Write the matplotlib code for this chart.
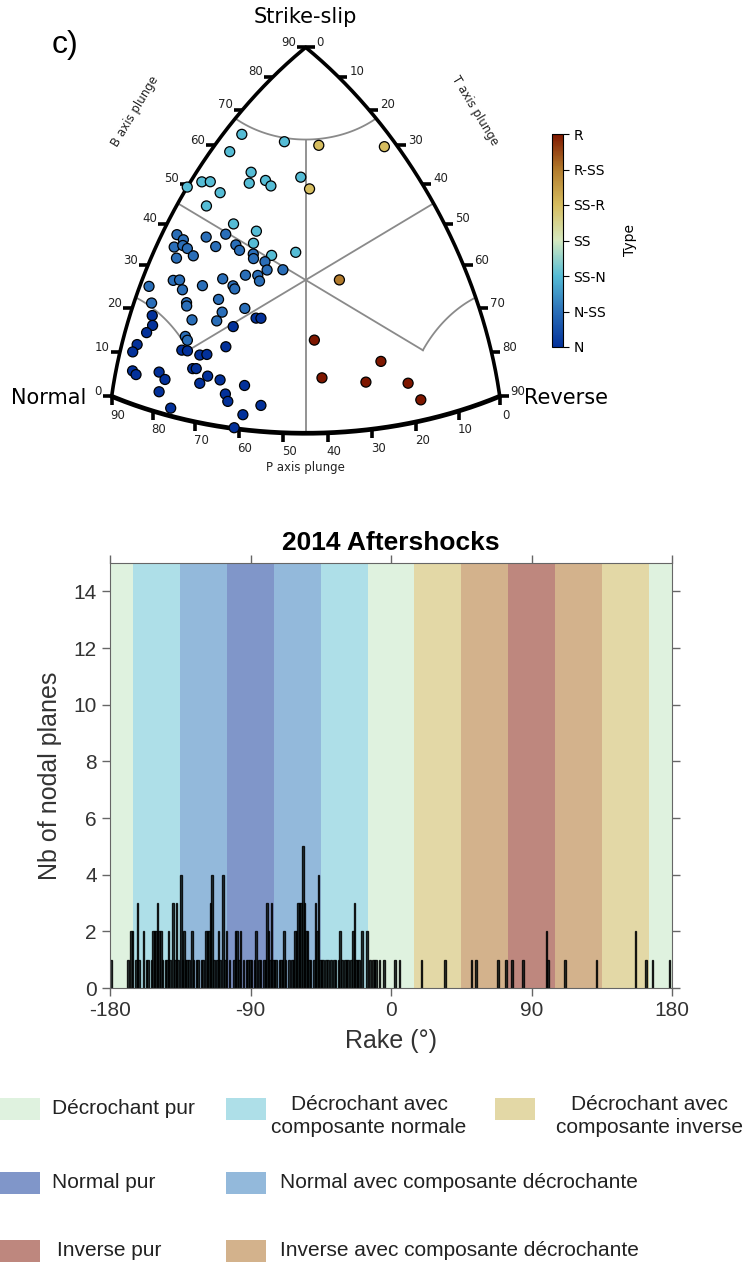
import numpy as np
import matplotlib
matplotlib.use('Agg')
import matplotlib.pyplot as plt
from matplotlib.colors import LinearSegmentedColormap, Normalize
from matplotlib.cm import ScalarMappable
from matplotlib.patches import Rectangle

plt.rcParams['axes.unicode_minus'] = False
W, H = 745, 1262

# ---------------- data ----------------
# B-axis and P-axis plunges (degrees) of the focal mechanisms; T plunge follows from them
b_plunge = [65.2, 66.6, 60.5, 58.0, 51.7, 52.6, 55.5, 57.0, 56.0, 58.7, 49.1, 51.3, 47.4, 45.7, 45.3, 42.5,
            40.4, 41.5, 66.0, 61.2, 56.0, 34.9, 21.6, 15.3, 12.9, 11.1, 9.2, 4.8,
            38.9, 38.5, 41.0, 43.0, 36.2, 37.3, 37.1, 39.7, 41.3, 40.3, 34.2, 36.1, 40.1, 39.1, 38.8, 37.0,
            37.4, 29.4, 30.0, 28.2, 30.5, 33.2, 32.2, 31.6, 35.1, 35.5, 34.3, 26.0, 22.9, 25.8, 25.1, 28.5,
            25.9, 27.7, 22.5, 23.7, 18.5, 17.8,
            25.9, 26.0, 23.2, 20.4, 18.4, 16.4, 13.1, 11.2, 15.3, 15.5, 15.3, 15.8, 18.4, 11.9, 12.1, 7.2,
            6.7, 9.0, 7.8, 11.0, 10.7, 9.0, 10.3, 4.7, 7.7, 6.1, 1.8, 6.1, 3.5, 0.2]
p_plunge = [24.5, 19.5, 29.2, 29.7, 38.2, 37.1, 31.8, 28.8, 28.8, 22.4, 40.9, 37.7, 41.9, 40.9, 38.2, 40.5,
            38.9, 33.9, 14.4, 2.6, 22.6, 28.3, 39.2, 25.8, 39.9, 30.2, 20.7, 18.4,
            50.9, 51.0, 47.3, 43.8, 53.5, 52.1, 52.0, 47.4, 43.8, 44.0, 55.2, 52.4, 42.1, 42.7, 41.0, 41.7,
            38.6, 59.6, 58.6, 59.8, 55.8, 51.2, 50.3, 50.4, 46.5, 44.2, 44.6, 63.9, 66.7, 61.2, 61.7, 54.9,
            55.9, 50.9, 62.8, 58.1, 66.4, 66.5,
            49.7, 48.7, 55.4, 68.9, 70.6, 72.8, 76.4, 78.4, 68.9, 67.8, 65.6, 64.0, 59.1, 68.5, 67.7, 81.8,
            81.7, 76.4, 75.8, 65.7, 63.1, 68.0, 57.8, 78.1, 62.6, 62.3, 75.8, 54.8, 59.1, 61.1]

rake_bin = [-180, -169, -167, -166, -164, -163, -162, -159, -157, -156, -154, -153, -152, -151, -150, -149,
            -148, -147, -145, -144, -143, -142, -140, -139, -138, -137, -135, -134, -133, -132, -131, -130,
            -128, -127, -125, -124, -122, -121, -119, -118, -117, -116, -115, -114, -112, -111, -110, -108,
            -107, -106, -104, -101, -100, -99, -98, -97, -95, -93, -92, -91, -90, -88, -87, -85, -84, -82,
            -81, -80, -79, -78, -77, -76, -75, -74, -72, -71, -70, -69, -68, -66, -64, -63, -62, -61, -60,
            -59, -58, -57, -56, -55, -54, -53, -52, -50, -49, -48, -47, -46, -45, -44, -42, -41, -39, -37,
            -36, -34, -33, -32, -30, -29, -28, -26, -25, -24, -23, -22, -21, -19, -16, -14, -12, -11, -10,
            -8, -5, 2, 5, 19, 34, 51, 54, 68, 73, 77, 84, 99, 100, 111, 131, 156, 163, 167, 178]
plane_counts = [1, 1, 2, 2, 1, 3, 1, 2, 1, 1, 1, 2, 2, 2, 3, 2,
                2, 1, 1, 1, 2, 1, 3, 1, 3, 1, 4, 1, 2, 1, 1, 1,
                2, 1, 1, 1, 1, 1, 2, 2, 2, 3, 4, 1, 1, 2, 1, 4,
                1, 2, 1, 1, 2, 2, 1, 2, 1, 1, 1, 1, 1, 1, 2, 1, 1, 1,
                1, 3, 2, 1, 3, 1, 1, 1, 1, 1, 1, 2, 1, 1, 1, 1, 2, 2, 3,
                3, 3, 5, 3, 2, 2, 1, 1, 1, 3, 2, 4, 1, 1, 1, 1, 1, 1, 1,
                1, 1, 2, 1, 1, 1, 1, 1, 2, 3, 1, 1, 1, 2, 2, 1, 1, 1, 1,
                1, 1, 1, 1, 1, 1, 1, 1, 1, 1, 1, 1, 2, 1, 1, 1, 2, 1, 1, 1]

classes = ['N', 'N-SS', 'SS-N', 'SS', 'SS-R', 'R-SS', 'R']
band_edges = [-180, -165, -135, -105, -75, -45, -15, 15, 45, 75, 105, 135, 165, 180]
band_kind = ['SS', 'SS-N', 'N-SS', 'N', 'N-SS', 'SS-N', 'SS', 'SS-R', 'R-SS', 'R', 'R-SS', 'SS-R', 'SS']
band_color = {'SS': '#dff2df', 'SS-N': '#aedfe8', 'N-SS': '#93b9db', 'N': '#8096c9',
              'SS-R': '#e3d8a6', 'R-SS': '#d3b28c', 'R': '#be877e'}
legend_entries = [('SS', 'Décrochant pur'), ('SS-N', 'Décrochant avec\ncomposante normale'),
                  ('SS-R', 'Décrochant avec\ncomposante inverse'), ('N', 'Normal pur'),
                  ('N-SS', 'Normal avec composante décrochante'), ('R', 'Inverse pur'),
                  ('R-SS', 'Inverse avec composante décrochante')]

# ---------------- helpers ----------------
def kave(t, b, p):
    zt = np.sin(np.radians(t)); zb = np.sin(np.radians(b)); zp = np.sin(np.radians(p))
    n = np.sqrt(zt**2 + zb**2 + zp**2)
    zt, zb, zp = zt/n, zb/n, zp/n
    L = 2*np.sin(0.5*np.arccos(np.clip((zt+zb+zp)/np.sqrt(3), -1, 1)))
    N = np.sqrt(2*((zb-zp)**2 + (zb-zt)**2 + (zt-zp)**2))
    N = np.where(N == 0, 1, N)
    return np.sqrt(3)*(L/N)*(zt-zp), (L/N)*(2*zb-zp-zt)

def classify(t, b, p):
    arr = [p, b, t]; m = int(np.argmax(arr)); mx = max(arr)
    if mx >= 67.5:
        return ['N', 'SS', 'R'][m]
    if m == 0:
        return 'N-SS' if b > t else 'N'
    if m == 1:
        return 'SS-N' if p > t else 'SS-R'
    return 'R-SS' if b > p else 'R'

b_pl = np.array(b_plunge); p_pl = np.array(p_plunge)
t_pl = np.degrees(np.arcsin(np.sqrt(np.clip(1 - np.sin(np.radians(b_pl))**2
                                            - np.sin(np.radians(p_pl))**2, 0, 1))))

cmap = LinearSegmentedColormap.from_list('type', ['#03319a', '#2a6fb8', '#55bcd5', '#d5e9c0',
                                                   '#d6bd5f', '#b27b2c', '#7e1700'])
norm = Normalize(0, 6)

fig = plt.figure(figsize=(W/100, H/100), dpi=100)

# ---------------- ternary (Kaverina) ----------------
ax = fig.add_axes([0, 1-480/H, 1, 480/H])
ax.set_xlim(-305.7/243.7, (W-305.7)/243.7)
ax.set_ylim((280-480)/253.0, 280/253.0)
ax.axis('off')
PX, PY = 1/243.7, 1/253.0
def pxd(px, py):
    return (px-305.7)*PX, (280-py)*PY

s = np.linspace(0, 90, 300)
z = np.zeros_like(s)
for tt, bb, pp, lw in [(z, s, 90-s, 2.6), (s, 90-s, z, 2.6), (90-s, z, s, 3.4)]:
    ex, ey = kave(tt, bb, pp)
    ax.plot(ex, ey, color='black', lw=lw, solid_capstyle='round', zorder=3)

gc, glw = '#8a8a8a', 1.3
r675 = np.cos(np.radians(67.5))
phi = np.radians(np.linspace(0, 90, 100))
ax.plot(*kave(np.degrees(np.arcsin(r675*np.cos(phi))), 67.5+0*phi,
              np.degrees(np.arcsin(r675*np.sin(phi)))), color=gc, lw=glw)
phi2 = np.radians(np.linspace(0, 45, 60))
ax.plot(*kave(np.degrees(np.arcsin(r675*np.sin(phi2))), np.degrees(np.arcsin(r675*np.cos(phi2))),
              67.5+0*phi2), color=gc, lw=glw)
ax.plot(*kave(67.5+0*phi2, np.degrees(np.arcsin(r675*np.cos(phi2))),
              np.degrees(np.arcsin(r675*np.sin(phi2)))), color=gc, lw=glw)
bb = np.linspace(67.5, 0, 50)
tp = np.degrees(np.arcsin(np.sqrt((1-np.sin(np.radians(bb))**2)/2)))
ax.plot(*kave(tp, bb, tp), color=gc, lw=glw)
tt = np.linspace(0, 67.5, 50)
bp = np.degrees(np.arcsin(np.sqrt((1-np.sin(np.radians(tt))**2)/2)))
ax.plot(*kave(tt, bp, bp), color=gc, lw=glw)
ax.plot(*kave(bp, bp, tt), color=gc, lw=glw)

fs_t = 8.5
for v in range(0, 91, 10):
    x, y = kave(0, v, 90-v)
    ax.plot([x-9*PX, x], [y, y], color='black', lw=2.6, solid_capstyle='butt', zorder=3)
    ax.text(x-10*PX, y+5*PY, str(v), ha='right', va='center', fontsize=fs_t, color='#222')
    x, y = kave(v, 90-v, 0)
    ax.plot([x, x+9*PX], [y, y], color='black', lw=2.6, solid_capstyle='butt', zorder=3)
    ax.text(x+11*PX, y+5*PY, str(v), ha='left', va='center', fontsize=fs_t, color='#222')
    x, y = kave(90-v, 0, v)
    ax.plot([x, x], [y, y-9*PY], color='black', lw=2.6, solid_capstyle='butt', zorder=3)
    ax.text(x+6*PX, y-19*PY, str(v), ha='center', va='center', fontsize=fs_t, color='#222')

ptx, pty = kave(t_pl, b_pl, p_pl)
cls_idx = [classes.index(classify(a, b, c)) for a, b, c in zip(t_pl, b_pl, p_pl)]
ax.scatter(ptx, pty, c=cls_idx, cmap=cmap, norm=norm, s=52, edgecolors='black', linewidths=0.9, zorder=4)

ax.text(*pxd(305.7, 17), 'Strike-slip', ha='center', va='center', fontsize=15)
ax.text(*pxd(86, 398), 'Normal', ha='right', va='center', fontsize=15)
ax.text(*pxd(524, 398), 'Reverse', ha='left', va='center', fontsize=15)
ax.text(*pxd(135, 111), 'B axis plunge', ha='center', va='center', fontsize=fs_t, rotation=59, color='#222')
ax.text(*pxd(475, 111), 'T axis plunge', ha='center', va='center', fontsize=fs_t, rotation=-59, color='#222')
ax.text(*pxd(305.7, 467), 'P axis plunge', ha='center', va='center', fontsize=fs_t, color='#222')
ax.text(*pxd(65, 45), 'c)', ha='center', va='center', fontsize=23, family='Liberation Sans')

cax = fig.add_axes([552/W, 1-347/H, 11/W, 213/H])
cb = fig.colorbar(ScalarMappable(norm=norm, cmap=cmap), cax=cax, ticks=range(7))
cb.set_ticklabels(classes)
cb.ax.tick_params(labelsize=10, length=4)
cb.set_label('Type', fontsize=10, labelpad=12)

# ---------------- histogram ----------------
hf = 'Liberation Sans'
axh = fig.add_axes([110/W, 1-988/H, 562/W, 425/H])
for i, k in enumerate(band_kind):
    axh.axvspan(band_edges[i], band_edges[i+1], color=band_color[k], lw=0, zorder=0)
axh.bar(rake_bin, plane_counts, width=1, align='edge', color='#101c1c', alpha=0.85,
        edgecolor='black', linewidth=0.95, zorder=2)
axh.set_xlim(-180, 180); axh.set_ylim(0, 15)
axh.set_xticks([-180, -90, 0, 90, 180]); axh.set_yticks(range(0, 15, 2))
axh.tick_params(direction='out', length=6, width=1, colors='#666', labelcolor='#333',
                labelsize=15, top=True, right=True)
for lab in axh.get_xticklabels() + axh.get_yticklabels():
    lab.set_family(hf)
for sp in axh.spines.values():
    sp.set_color('#666')
axh.set_title('2014 Aftershocks', fontsize=19, fontweight='bold', family=hf, pad=9)
axh.set_xlabel('Rake (°)', fontsize=18, family=hf, color='#333', labelpad=6)
axh.set_ylabel('Nb of nodal planes', fontsize=18, family=hf, color='#333', labelpad=8)

# ---------------- legend ----------------
axl = fig.add_axes([0, 0, 1, 180/H])
axl.set_xlim(0, W); axl.set_ylim(H, H-180); axl.axis('off')
slots = [(0, 1098, 52, 'left'), (226, 1098, 369, 'center'), (495, 1098, 649, 'center'),
         (0, 1172, 52, 'left'), (226, 1172, 280, 'left'),
         (0, 1240, 57, 'left'), (226, 1240, 280, 'left')]
for (x0, y0, tx, ha), (k, lab) in zip(slots, legend_entries):
    axl.add_patch(Rectangle((x0, y0), 40, 22, color=band_color[k], lw=0))
    axl.text(tx, y0 + 11 + (7 if '\n' in lab else 0), lab, ha=ha, va='center', fontsize=15,
             family=hf, color='#222', multialignment='center', linespacing=1.3)

fig.savefig('out.png', dpi=100)
